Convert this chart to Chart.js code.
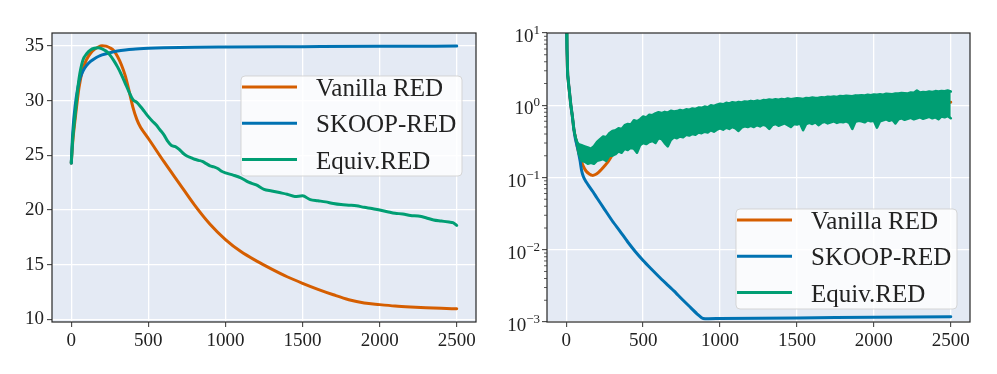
<!DOCTYPE html>
<html><head><meta charset="utf-8">
<script src="https://cdn.jsdelivr.net/npm/chart.js@4.4.0/dist/chart.umd.min.js"></script>
<style>
html,body{margin:0;padding:0;background:#fff;width:997px;height:374px;overflow:hidden}
#l{position:absolute;left:0;top:0}
#r{position:absolute;left:490px;top:0}
</style></head><body>
<canvas id="l" width="490" height="374"></canvas>
<canvas id="r" width="507" height="374"></canvas>
<script>
// ---------- data ----------
const seriesNames = ['Vanilla RED', 'SKOOP-RED', 'Equiv.RED'];
const seriesColors = ['#D55E00', '#0072B2', '#009E73'];
const xTicks = [0, 500, 1000, 1500, 2000, 2500];
const xTickLabels = ['0', '500', '1000', '1500', '2000', '2500'];
const leftYTicks = [10, 15, 20, 25, 30, 35];
const rightYTicks = [0.001, 0.01, 0.1, 1, 10];
const rightYBase = ['10', '10', '10', '10', '10'];
const rightYExp = ['\u22123', '\u22122', '\u22121', '0', '1'];

// left panel
const leftVanillaX = [0,10,25,50,75,100,125,150,175,200,225,250,275,300,325,350,375,400,425,450,475,500,600,700,800,900,1000,1100,1200,1300,1400,1500,1600,1700,1800,1900,2000,2100,2200,2300,2400,2500];
const leftVanillaY = [24.3,26.3,28.3,31.2,32.9,33.8,34.35,34.7,34.92,35.03,35.0,34.85,34.6,34.05,33.3,32.3,30.9,29.4,28.3,27.55,27.05,26.55,24.45,22.45,20.45,18.7,17.3,16.2,15.35,14.6,13.9,13.3,12.75,12.25,11.8,11.5,11.35,11.22,11.13,11.06,11.01,10.97];
const leftSkoopX = [0,10,25,50,75,100,125,150,175,200,250,300,350,400,500,600,800,1000,1500,2000,2500];
const leftSkoopY = [24.3,27.2,29.5,31.7,32.7,33.25,33.6,33.85,34.05,34.2,34.4,34.55,34.65,34.72,34.8,34.85,34.9,34.92,34.95,34.98,35.0];
const leftEquivX = [0,10,25,50,75,100,125,150,175,200,225,250,275,300,325,350,375,400,425,450,475,500,525,550,575,600,625,650,675,700,725,750,775,800,825,850,875,900,925,950,975,1000,1050,1100,1150,1200,1250,1300,1350,1400,1450,1500,1550,1600,1650,1700,1750,1800,1850,1900,1950,2000,2050,2100,2150,2200,2250,2300,2350,2400,2450,2475,2500];
const leftEquivY = [24.3,26.6,28.7,32.0,33.7,34.3,34.65,34.8,34.85,34.75,34.55,34.2,33.7,33.1,32.4,31.6,30.8,30.1,29.85,29.45,29.0,28.55,28.15,27.8,27.35,26.9,26.3,25.9,25.8,25.55,25.2,24.95,24.8,24.65,24.55,24.45,24.25,24.05,23.95,23.8,23.55,23.4,23.2,22.95,22.55,22.3,21.9,21.75,21.6,21.45,21.25,21.3,20.95,20.85,20.75,20.6,20.5,20.45,20.4,20.25,20.15,20.0,19.85,19.7,19.65,19.5,19.45,19.3,19.1,19.0,18.9,18.85,18.6];

// right panel (log)
const rightVanillaX = [0,5,10,20,30,40,50,60,75,90,110,130,150,170,190,210,230,250,270,290,310,350,400,500,600,800,1000,1200,1500,2000,2500];
const rightVanillaY = [30,6,2.6,1.6,1.0,0.7,0.46,0.36,0.25,0.19,0.145,0.122,0.112,0.107,0.11,0.118,0.13,0.145,0.163,0.19,0.22,0.27,0.35,0.45,0.55,0.65,0.75,0.82,0.9,1.0,1.1];
const rightSkoopX = [0,5,10,20,30,40,50,60,75,90,100,110,125,150,175,200,250,300,350,400,450,500,550,600,650,700,750,800,850,890,1000,1500,2000,2500];
const rightSkoopY = [30,6,2.6,1.6,1.0,0.7,0.46,0.34,0.25,0.17,0.125,0.105,0.09,0.075,0.063,0.052,0.036,0.025,0.018,0.0128,0.0094,0.0071,0.0055,0.0043,0.0034,0.0027,0.0021,0.00165,0.0013,0.00112,0.00112,0.00114,0.00116,0.00118];
// Equiv.RED on the log panel is a dense noisy band: its upper and lower envelopes
const rightEquivX = [0,5,10,20,30,40,50,60,70,
 80,100,120,140,160,180,200,220,240,260,
 280,300,320,340,360,380,400,420,440,460,
 480,500,520,540,560,580,600,620,640,660,
 680,700,720,740,760,780,800,820,840,860,
 880,900,920,940,960,980,1000,1020,1040,1060,
 1080,1100,1120,1140,1160,1180,1200,1220,1240,1260,
 1280,1300,1320,1340,1360,1380,1400,1420,1440,1460,
 1480,1500,1520,1540,1560,1580,1600,1620,1640,1660,
 1680,1700,1720,1740,1760,1780,1800,1820,1840,1860,
 1880,1900,1920,1940,1960,1980,2000,2020,2040,2060,
 2080,2100,2120,2140,2160,2180,2200,2220,2240,2260,
 2280,2300,2320,2340,2360,2380,2400,2420,2440,2460,
 2480,2500];
const rightEquivUpper = [30,6,2.6,1.6,1.0,0.7,0.46,0.36,0.31,
 0.29,0.28,0.27,0.26,0.25,0.27,0.31,0.34,0.37,0.36,
 0.41,0.44,0.45,0.48,0.47,0.53,0.55,0.54,0.62,0.6,
 0.64,0.7,0.68,0.74,0.73,0.77,0.8,0.78,0.81,0.79,
 0.84,0.82,0.83,0.86,0.84,0.88,0.87,0.9,0.89,0.93,
 0.92,0.96,0.94,1.0,0.98,1.02,1.05,1.03,1.08,1.06,
 1.1,1.08,1.11,1.09,1.13,1.12,1.15,1.13,1.16,1.14,
 1.18,1.17,1.2,1.18,1.21,1.19,1.22,1.2,1.24,1.21,
 1.23,1.25,1.24,1.22,1.26,1.25,1.28,1.26,1.27,1.29,
 1.28,1.31,1.3,1.32,1.3,1.34,1.33,1.35,1.34,1.33,
 1.37,1.36,1.38,1.37,1.4,1.38,1.41,1.4,1.42,1.4,
 1.44,1.43,1.42,1.46,1.45,1.48,1.47,1.46,1.5,1.49,
 1.6,1.5,1.52,1.51,1.55,1.53,1.57,1.55,1.58,1.56,
 1.6,1.55];
const rightEquivLower = [30,6,2.6,1.6,1.0,0.7,0.46,0.36,0.31,
 0.22,0.17,0.165,0.155,0.16,0.155,0.17,0.175,0.18,0.17,
 0.2,0.2,0.21,0.23,0.22,0.25,0.24,0.26,0.25,0.22,
 0.28,0.3,0.29,0.31,0.32,0.3,0.35,0.34,0.3,0.27,
 0.33,0.36,0.35,0.37,0.36,0.39,0.38,0.4,0.39,0.42,
 0.41,0.43,0.42,0.45,0.43,0.46,0.48,0.46,0.49,0.47,
 0.5,0.48,0.44,0.49,0.51,0.5,0.52,0.5,0.53,0.51,
 0.54,0.52,0.47,0.53,0.55,0.52,0.54,0.56,0.53,0.5,
 0.55,0.54,0.56,0.45,0.55,0.57,0.55,0.58,0.53,0.57,
 0.59,0.56,0.58,0.6,0.57,0.59,0.58,0.6,0.57,0.47,
 0.59,0.61,0.6,0.58,0.62,0.6,0.61,0.49,0.6,0.62,
 0.64,0.61,0.63,0.56,0.64,0.66,0.63,0.65,0.67,0.64,
 0.66,0.68,0.65,0.67,0.69,0.66,0.68,0.64,0.7,0.68,
 0.71,0.66];

// ---------- rendering ----------
const FONT = "'Liberation Serif', 'DejaVu Serif', serif";
const BG = '#e4eaf4';
Chart.defaults.font.family = FONT;
Chart.defaults.color = '#222';

function pts(xs, ys) { return xs.map((x, i) => ({ x: x, y: ys[i] })); }

function drawLegend(ctx, L) {
  ctx.save();
  const r = 4;
  ctx.beginPath();
  ctx.moveTo(L.x + r, L.y);
  ctx.lineTo(L.x + L.w - r, L.y);
  ctx.quadraticCurveTo(L.x + L.w, L.y, L.x + L.w, L.y + r);
  ctx.lineTo(L.x + L.w, L.y + L.h - r);
  ctx.quadraticCurveTo(L.x + L.w, L.y + L.h, L.x + L.w - r, L.y + L.h);
  ctx.lineTo(L.x + r, L.y + L.h);
  ctx.quadraticCurveTo(L.x, L.y + L.h, L.x, L.y + L.h - r);
  ctx.lineTo(L.x, L.y + r);
  ctx.quadraticCurveTo(L.x, L.y, L.x + r, L.y);
  ctx.closePath();
  ctx.fillStyle = 'rgba(255,255,255,0.82)';
  ctx.fill();
  ctx.strokeStyle = 'rgba(210,210,210,0.9)';
  ctx.lineWidth = 1;
  ctx.stroke();
  ctx.font = '25px ' + FONT;
  ctx.textAlign = 'left';
  ctx.textBaseline = 'alphabetic';
  for (let i = 0; i < seriesNames.length; i++) {
    const y = L.y + 11 + i * 36.3;
    ctx.strokeStyle = seriesColors[i];
    ctx.lineWidth = 3;
    ctx.beginPath();
    ctx.moveTo(L.x + 1, y);
    ctx.lineTo(L.x + 56, y);
    ctx.stroke();
    ctx.fillStyle = '#222';
    ctx.fillText(seriesNames[i], L.x + 75, y + 9);
  }
  ctx.restore();
}

const framePlugin = {
  id: 'frame',
  beforeDraw(chart) {
    const a = chart.chartArea, c = chart.ctx;
    c.save();
    c.fillStyle = BG;
    c.fillRect(a.left, a.top, a.right - a.left, a.bottom - a.top);
    c.restore();
  },
  afterDraw(chart, args, opts) {
    const a = chart.chartArea, c = chart.ctx;
    c.save();
    c.strokeStyle = '#262626';
    c.lineWidth = 1.2;
    c.strokeRect(a.left, a.top, a.right - a.left, a.bottom - a.top);
    if (opts.log) {
      const ys = chart.scales.y;
      c.strokeStyle = '#333';
      c.lineWidth = 0.8;
      for (let d = 0; d < rightYTicks.length - 1; d++) {
        for (let k = 2; k <= 9; k++) {
          const py = ys.getPixelForValue(rightYTicks[d] * k);
          c.beginPath();
          c.moveTo(a.left - 3, py);
          c.lineTo(a.left, py);
          c.stroke();
        }
      }
      c.fillStyle = '#222';
      c.textBaseline = 'alphabetic';
      for (let i = 0; i < rightYTicks.length; i++) {
        const py = ys.getPixelForValue(rightYTicks[i]);
        c.font = '13px ' + FONT;
        const ew = c.measureText(rightYExp[i]).width;
        const xr = a.left - 7;
        c.textAlign = 'left';
        c.fillText(rightYExp[i], xr - ew, py + 1);
        c.font = '19px ' + FONT;
        c.textAlign = 'right';
        c.fillText(rightYBase[i], xr - ew, py + 9);
      }
    }
    c.restore();
    if (opts.legend) drawLegend(c, opts.legend);
  }
};

const lineBase = { pointRadius: 0, borderWidth: 3, fill: false, clip: 0, borderJoinStyle: 'round', borderCapStyle: 'round' };

function xAxis() {
  return {
    type: 'linear', min: -125, max: 2625,
    afterBuildTicks: sc => { sc.ticks = xTicks.map(v => ({ value: v })); },
    afterFit: sc => { sc.height = 52; },
    grid: { color: '#ffffff', lineWidth: 1.3, tickLength: 5, tickColor: '#333', tickWidth: 1 },
    border: { display: false },
    ticks: { font: { size: 19, family: FONT }, color: '#222', maxRotation: 0, autoSkip: false, padding: 3,
             callback: (v, i) => xTickLabels[i] }
  };
}

// left: first dataset is top-most
new Chart(document.getElementById('l'), {
  type: 'line',
  data: { datasets: [
    Object.assign({}, lineBase, { label: seriesNames[2], data: pts(leftEquivX, leftEquivY), borderColor: seriesColors[2], cubicInterpolationMode: 'monotone' }),
    Object.assign({}, lineBase, { label: seriesNames[1], data: pts(leftSkoopX, leftSkoopY), borderColor: seriesColors[1], cubicInterpolationMode: 'monotone' }),
    Object.assign({}, lineBase, { label: seriesNames[0], data: pts(leftVanillaX, leftVanillaY), borderColor: seriesColors[0], cubicInterpolationMode: 'monotone' })
  ] },
  options: {
    responsive: false, animation: false, events: [], devicePixelRatio: 1,
    layout: { padding: { left: 0, right: 14, top: 33, bottom: 0 } },
    plugins: { legend: { display: false }, tooltip: { enabled: false }, frame: { legend: { x: 241, y: 76, w: 221, h: 100 } } },
    scales: {
      x: xAxis(),
      y: {
        type: 'linear', min: 9.76, max: 36.2,
        afterBuildTicks: sc => { sc.ticks = leftYTicks.map(v => ({ value: v })); },
        afterFit: sc => { sc.width = 52; },
        grid: { color: '#ffffff', lineWidth: 1.3, tickLength: 5, tickColor: '#333', tickWidth: 1 },
        border: { display: false },
        ticks: { font: { size: 19, family: FONT }, color: '#222', padding: 3 }
      }
    }
  },
  plugins: [framePlugin]
});

new Chart(document.getElementById('r'), {
  type: 'line',
  data: { datasets: [
    Object.assign({}, lineBase, { label: seriesNames[2], data: pts(rightEquivX, rightEquivUpper), borderColor: seriesColors[2], borderWidth: 2.5, tension: 0,
      fill: { target: '+1' }, backgroundColor: seriesColors[2] }),
    Object.assign({}, lineBase, { label: seriesNames[2] + ' (low)', data: pts(rightEquivX, rightEquivLower), borderColor: seriesColors[2], borderWidth: 2.5, tension: 0 }),
    Object.assign({}, lineBase, { label: seriesNames[1], data: pts(rightSkoopX, rightSkoopY), borderColor: seriesColors[1], tension: 0.2 }),
    Object.assign({}, lineBase, { label: seriesNames[0], data: pts(rightVanillaX, rightVanillaY), borderColor: seriesColors[0], tension: 0.2 })
  ] },
  options: {
    responsive: false, animation: false, events: [], devicePixelRatio: 1,
    layout: { padding: { left: 0, right: 27, top: 33, bottom: 0 } },
    plugins: { legend: { display: false }, tooltip: { enabled: false }, filler: { propagate: false },
               frame: { log: true, legend: { x: 246, y: 209, w: 221, h: 100 } } },
    scales: {
      x: xAxis(),
      y: {
        type: 'logarithmic', min: 0.001, max: 10,
        afterBuildTicks: sc => { sc.ticks = rightYTicks.map(v => ({ value: v, major: true })); },
        afterFit: sc => { sc.width = 57; },
        grid: { color: '#ffffff', lineWidth: 1.3, tickLength: 5, tickColor: '#333', tickWidth: 1 },
        border: { display: false },
        ticks: { display: false }
      }
    }
  },
  plugins: [framePlugin]
});
</script>
</body></html>
